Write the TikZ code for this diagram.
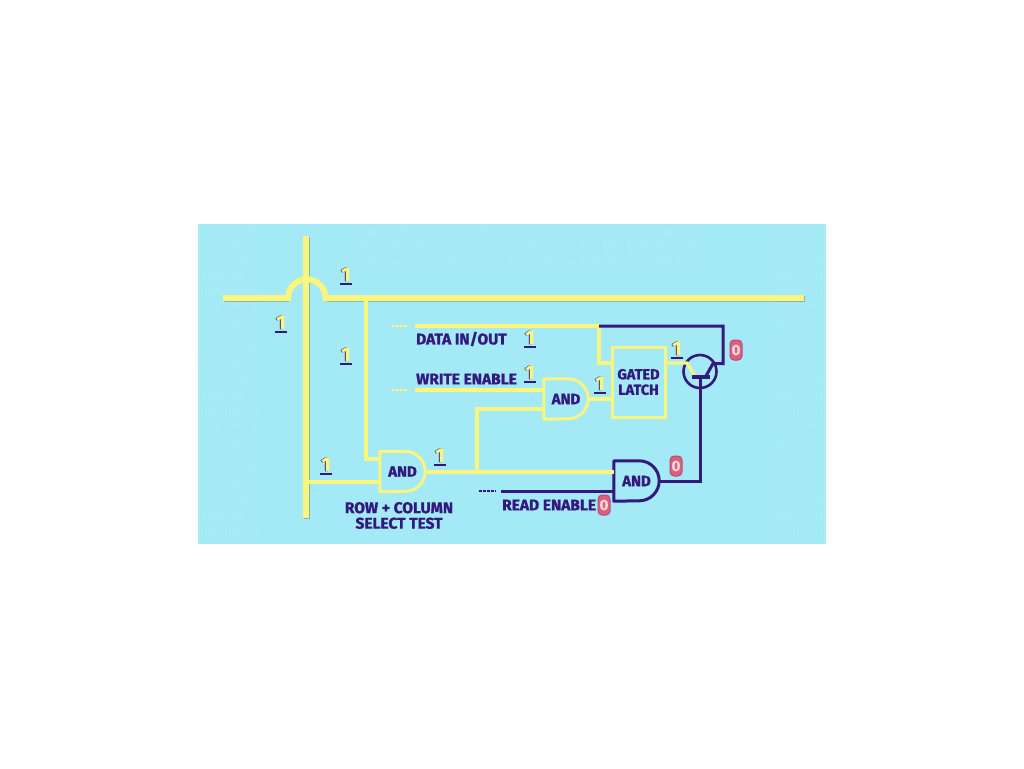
\documentclass[tikz,border=0pt]{standalone}
\usepackage{fontspec}
\setsansfont{Fira Sans}[BoldFeatures={FakeBold=1.2}]
\definecolor{panelblue}{HTML}{A3E9F6}
\definecolor{bitsblue}{HTML}{AEEDF8}
\definecolor{wireyellow}{HTML}{F9F57E}
\definecolor{wireink}{HTML}{33187F}
\definecolor{busshade}{HTML}{7FB3B0}
\definecolor{zeropink}{HTML}{DE5F7C}
\definecolor{zeropale}{HTML}{F6D5DB}
\newcommand{\bitone}{\rlap{\kern-0.8pt\textcolor{wireink}{1}}\rlap{\kern-1pt\textcolor{wireink}{\rule[-3.5pt]{12pt}{1.8pt}}}\textcolor{wireyellow}{1}}
\newcommand{\gateoutline}[2]{\draw[#2, line width=3pt, line join=round] (#1.north west) -- ([xshift=-20pt]#1.north east)
  arc[start angle=-90, end angle=90, radius=20] -- (#1.south west) -- cycle;}
\tikzset{
  bus/.style={line width=6pt, wireyellow},
  busback/.style={line width=6pt, busshade},
  wire/.style={line width=3.2pt, wireyellow},
  darkwire/.style={line width=3pt, wireink},
  andgate/.style={minimum width=44pt, minimum height=40pt, inner sep=0pt, text=wireink,
    font=\sffamily\bfseries\fontsize{15}{15}\selectfont},
  tag/.style={text=wireink, align=center, inner sep=0pt, font=\sffamily\bfseries\fontsize{15.5}{15.5}\selectfont},
  bitrow/.style={text=bitsblue, inner sep=0pt, font=\sffamily\fontsize{11}{11}\selectfont},
  onelabel/.style={inner sep=0pt, font=\sffamily\bfseries\fontsize{20}{20}\selectfont},
  zerolabel/.style={draw=zeropink!75!wireink, fill=zeropink, line width=1pt, rounded corners=4pt, minimum width=12pt,
    minimum height=20pt, inner sep=0pt, text=zeropale, font=\sffamily\bfseries\fontsize{15}{15}\selectfont},
  dots/.style={line width=2.8pt, dash pattern=on 2.5pt off 1.5pt}
}
\begin{document}
\begin{tikzpicture}[x=1pt, y=-1pt]
\useasboundingbox (0,0) rectangle (1024,768);
\fill[panelblue] (198,224) rectangle (826,544);
% faint bits in the free parts of the panel
\foreach \row in {232,247,...,262}
  \node[bitrow, anchor=west] (bitstop\row) at (360,\row) {0101 1010 0101 0101 1010 1010 0101 1010 0101 1010 0101 0101 1010 1010};
\foreach \row in {232,247,...,532} {
  \node[bitrow, anchor=west] (bitsleft\row) at (201,\row) {0101 0101 10};
  \node[bitrow, anchor=east] (bitsright\row) at (823,\row) {1010 0101};
}

% buses
\coordinate (rowleft) at (223,298);
\coordinate (hopleft) at (288,298);
\coordinate (hopright) at (325.5,298);
\coordinate (rowright) at (804,298);
\coordinate (coltop) at (306,236);
\coordinate (colbottom) at (306,518);
\draw[busback] ([shift={(1.2,1.2)}]rowleft) -- ([shift={(1.2,1.2)}]hopleft);
\draw[busback] ([shift={(1.2,1.2)}]hopright) -- ([shift={(1.2,1.2)}]rowright);
\draw[busback] ([shift={(1.2,1.2)}]coltop) -- ([shift={(1.2,1.2)}]colbottom);
\draw[bus] (rowleft) -- (hopleft) arc[start angle=180, end angle=360, radius=18.75] -- (rowright);
\draw[bus] (coltop) -- (colbottom);

% gates
\node[andgate, minimum width=45pt] (selectand) at (402.5,471.5) {AND};
\node[andgate] (writeand) at (566,399) {AND};
\node[andgate, minimum width=45pt] (readand) at (636.5,481) {AND};
\gateoutline{selectand}{wireyellow}
\gateoutline{writeand}{wireyellow}
\gateoutline{readand}{wireink}
\node[draw=wireyellow, line width=3pt, minimum width=53pt, minimum height=70pt, inner sep=0pt,
  text=wireink, align=center, font=\sffamily\bfseries\fontsize{14.5}{15.5}\selectfont] (latch) at (638.5,382) {GATED\\LATCH};

% transistor
\node[draw=wireink, circle, line width=2.6pt, minimum size=33pt, inner sep=0pt] (transistor) at (700,371.5) {};
\coordinate (basebar) at (700,377);
\coordinate (datacorner) at (599,326);
\coordinate (collector) at (723,363.5);
\coordinate (rowtap) at (366,298);
\coordinate (coltap) at (306,482);
\coordinate (selectin) at (380,459);
\coordinate (branch) at (477,472);
\coordinate (datastart) at (415,326);
\coordinate (writestart) at (415,390);
\coordinate (readstart) at (501,491);

% yellow wires
\draw[wire] (rowtap) |- (selectin);
\draw[wire] (coltap) -- (coltap -| selectand.west);
\draw[wire] (selectand.east |- branch) -- (branch -| readand.west);
\draw[wire] (branch) |- (writeand.west |- 0,409);
\draw[wire] (writestart) -- (writeand.west |- writestart);
\draw[wire] (datastart) -- (datacorner) |- (latch.west |- 0,363);
\draw[wire] (writeand.east) -- (latch.west |- writeand.east);
\draw[wire] (latch.east |- 0,363) -- (687,363) -- (695,376);
\draw[wire, dots] (392,326) -- (408,326);
\draw[wire, dots] (392,390) -- (408,390);

% dark wires
\draw[darkwire] (datacorner) -- (datacorner -| collector) -- (collector) -- (713,363.5) -- (706,376);
\draw[darkwire, line width=3.6pt] (692,377) -- (710,377);
\draw[darkwire] (basebar) |- (readand.east);
\draw[darkwire] (readstart) -- (readand.west |- readstart);
\draw[darkwire, dots] (479,491) -- (496,491);

% labels
\node[tag, anchor=west] (datatag) at (416,339) {DATA IN/OUT};
\node[tag, anchor=west] (writetag) at (416,379) {WRITE ENABLE};
\node[tag, anchor=west] (readtag) at (502,505) {READ ENABLE};
\node[tag] (selecttag) at (399,515.5) {ROW + COLUMN\\SELECT TEST};
\node[onelabel] (onea) at (346,276) {\bitone};
\node[onelabel] (oneb) at (281,324) {\bitone};
\node[onelabel] (onec) at (346,356) {\bitone};
\node[onelabel] (oned) at (326,466) {\bitone};
\node[onelabel] (onee) at (440,457) {\bitone};
\node[onelabel] (onef) at (530,339) {\bitone};
\node[onelabel] (oneg) at (530,374) {\bitone};
\node[onelabel] (oneh) at (600,385) {\bitone};
\node[onelabel] (onei) at (677,350) {\bitone};
\node[zerolabel] (zeroa) at (736,350) {0};
\node[zerolabel] (zerob) at (676,466) {0};
\node[zerolabel] (zeroc) at (604,505) {0};
\end{tikzpicture}
\end{document}
